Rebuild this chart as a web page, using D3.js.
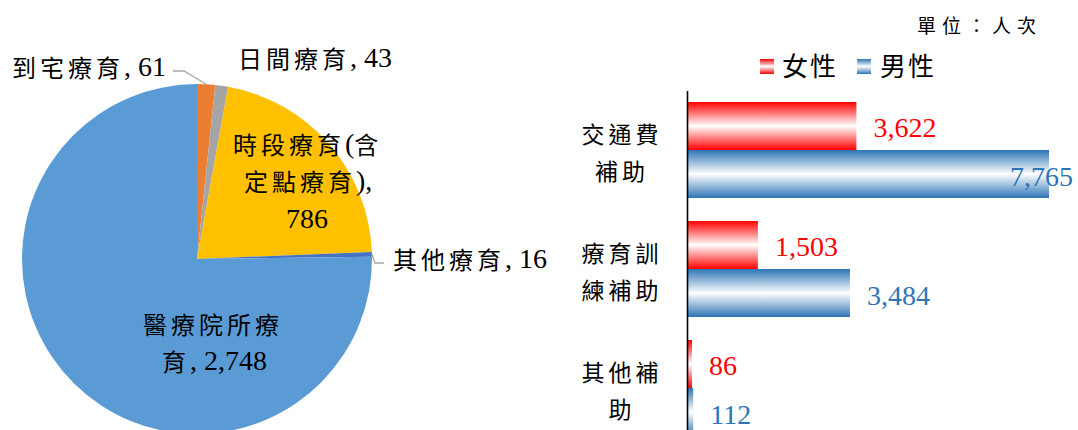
<!DOCTYPE html>
<html><head><meta charset="utf-8">
<script src="https://cdn.jsdelivr.net/npm/d3@7"></script>
<style>
html,body{margin:0;padding:0;background:#fff;}
svg{display:block;}
text{font-family:"Liberation Serif","Noto Sans CJK TC",serif;}
</style></head>
<body>
<svg id="c" width="1078" height="430"></svg>
<script>
// ---------- data ----------
const pieCategories = ["到宅療育", "日間療育", "時段療育(含定點療育)", "其他療育", "醫療院所療育"];
const pieValues = [61, 43, 786, 16, 2748];
const barCategories = ["交通費補助", "療育訓練補助", "其他補助"];
const barCategoryLines = [["交通費", "補助"], ["療育訓", "練補助"], ["其他補", "助"]];
const seriesNames = ["女性", "男性"];
const femaleValues = [3622, 1503, 86];
const maleValues = [7765, 3484, 112];
const unitLabel = "單位：人次";

// ---------- layout / style ----------
const W = 1078, H = 430;
const pieColors = ["#ED7D31", "#A5A5A5", "#FFC000", "#4472C4", "#5B9BD5"];
const seriesColors = ["#FF0000", "#2E75B6"];
const labelColors = ["#FF0000", "#2E75B6"];
const svg = d3.select("#c");
const fmt = d3.format(",");

// gradients
const defs = svg.append("defs");
seriesColors.forEach((c, i) => {
  const g = defs.append("linearGradient").attr("id", "g" + i)
    .attr("x1", 0).attr("y1", 0).attr("x2", 0).attr("y2", 1);
  g.append("stop").attr("offset", "0%").attr("stop-color", c);
  g.append("stop").attr("offset", "50%").attr("stop-color", "#fff");
  g.append("stop").attr("offset", "100%").attr("stop-color", c);
});

// ---------- pie ----------
const cx = 197, cy = 259, R = 175;
const pie = d3.pie().sort(null).value(d => d).startAngle(0).endAngle(2 * Math.PI);
const arcs = pie(pieValues);
const arc = d3.arc().innerRadius(0).outerRadius(R);
const pg = svg.append("g").attr("transform", `translate(${cx},${cy})`);
pg.selectAll("path").data(arcs).join("path")
  .attr("d", arc).attr("fill", (d, i) => pieColors[i]);

function edgePoint(d) {
  const a = (d.startAngle + d.endAngle) / 2;
  return [cx + R * Math.sin(a), cy - R * Math.cos(a)];
}
// leader lines
const p0 = edgePoint(arcs[0]);
svg.append("polyline").attr("points", [[173, 71], [184, 71], p0].map(p => p.join(",")).join(" "))
  .attr("fill", "none").attr("stroke", "#A6A6A6").attr("stroke-width", 1.3);
const p3 = edgePoint(arcs[3]);
svg.append("polyline").attr("points", [p3, [375, 263], [384, 263]].map(p => p.join(",")).join(" "))
  .attr("fill", "none").attr("stroke", "#A6A6A6").attr("stroke-width", 1.3);

// labels: segments of [text, isCJK]
function label(x, y, anchor, parts) {
  const t = svg.append("text").attr("x", x).attr("y", y)
    .attr("text-anchor", anchor).attr("dominant-baseline", "central").attr("fill", "#000");
  parts.forEach(([s, cjk]) => {
    t.append("tspan").text(s)
      .attr("font-size", cjk ? 24 : 28)
      .attr("letter-spacing", cjk ? 4 : 0)
      .attr("font-family", cjk ? "'Noto Sans CJK TC'" : "'Liberation Serif'");
  });
  return t;
}
label(12, 66, "start", [[pieCategories[0], true], [", " + fmt(pieValues[0]), false]]);
label(238, 57, "start", [[pieCategories[1], true], [", " + fmt(pieValues[1]), false]]);
label(233, 143, "start", [["時段療育", true], ["(", false], ["含", true]]);
label(244, 180, "start", [["定點療育", true], ["),", false]]);
label(307, 218, "middle", [[fmt(pieValues[2]), false]]);
label(393, 258, "start", [[pieCategories[3], true], [", " + fmt(pieValues[3]), false]]);
label(143, 323, "start", [["醫療院所療", true]]);
label(162, 360, "start", [["育", true], [", " + fmt(pieValues[4]), false]]);

// ---------- bars ----------
const x = d3.scaleLinear().domain([0, d3.max(maleValues)]).range([688, 1049]);
const y = d3.scaleBand().domain(barCategories).range([90.5, 447.5]).paddingInner(0.193).paddingOuter(0.0965);
const ys = d3.scaleBand().domain(seriesNames).range([0, y.bandwidth()]);
const series = [femaleValues, maleValues];

const bg = svg.append("g");
series.forEach((vals, si) => {
  bg.selectAll(null).data(vals).join("rect")
    .attr("x", x(0))
    .attr("y", (d, i) => y(barCategories[i]) + ys(seriesNames[si]))
    .attr("width", d => x(d) - x(0))
    .attr("height", ys.bandwidth())
    .attr("fill", `url(#g${si})`);
});

// axis
const axis = svg.append("g").attr("transform", `translate(687,0)`)
  .call(d3.axisLeft(y).tickSize(0).tickFormat(""));
axis.select(".domain").attr("stroke", "#000").attr("stroke-width", 1.6);

// value labels
series.forEach((vals, si) => {
  vals.forEach((v, i) => {
    const yc = y(barCategories[i]) + ys(seriesNames[si]) + ys.bandwidth() / 2 + 2;
    const t = svg.append("text").attr("y", yc).attr("dominant-baseline", "central")
      .attr("font-size", 28).attr("fill", labelColors[si]).text(fmt(v));
    let xx = x(v) + 17;
    const w = t.node().getComputedTextLength();
    if (xx + w > W - 3) { t.attr("x", W - 5).attr("text-anchor", "end"); }
    else t.attr("x", xx);
  });
});

// category labels
barCategories.forEach((c, i) => {
  const mid = y(c) + y.bandwidth() / 2 + 3;
  const lines = barCategoryLines[i];
  const t = svg.append("text").attr("text-anchor", "middle").attr("dominant-baseline", "central")
    .attr("font-family", "'Noto Sans CJK TC'").attr("font-size", 23).attr("letter-spacing", 4);
  lines.forEach((l, k) => {
    t.append("tspan").attr("x", 622).attr("y", mid + (k - (lines.length - 1) / 2) * 37).text(l);
  });
});

// legend
const lg = svg.append("g");
[[760, 782], [857, 880]].forEach(([sx, tx], i) => {
  lg.append("rect").attr("x", sx).attr("y", 59).attr("width", 14).attr("height", 15).attr("fill", `url(#g${i})`);
  lg.append("text").attr("x", tx).attr("y", 67).attr("dominant-baseline", "central")
    .attr("font-family", "'Noto Sans CJK TC'").attr("font-size", 26).attr("letter-spacing", 2).text(seriesNames[i]);
});
svg.append("text").attr("x", 917).attr("y", 26).attr("dominant-baseline", "central")
  .attr("font-family", "'Noto Sans CJK TC'").attr("font-size", 19).attr("letter-spacing", 6).text(unitLabel);
</script>
</body></html>
